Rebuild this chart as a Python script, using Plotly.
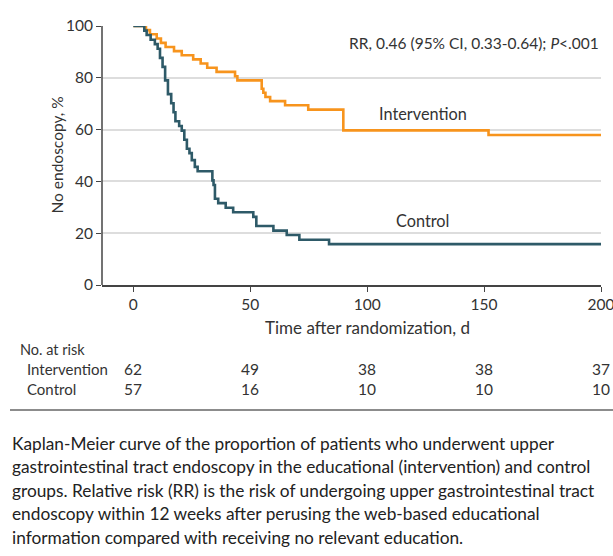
import plotly.graph_objects as go

# ---------------- data ----------------
int_time = [0, 5.4, 7.1, 10.0, 11.8, 13.8, 17.4, 20.7, 25.6, 28.8, 31.6, 35.6, 43.5, 44.5,
            54.9, 55.6, 56.5, 58.5, 64.9, 74.8, 89.8, 151.9, 200]
int_surv = [100, 98.4, 96.8, 95.2, 93.5, 91.9, 90.3, 88.7, 87.1, 85.5, 83.9, 82.3, 80.6, 79.0,
            75.8, 74.2, 72.6, 71.0, 69.4, 67.7, 59.7, 57.9, 57.9]

ctl_time = [0, 4.7, 5.7, 7.4, 9.2, 10.4, 11.4, 12.5, 13.6, 14.8, 16.2, 17.2, 18.0, 19.6, 20.7,
            21.8, 22.9, 24.0, 25.0, 26.3, 27.5, 33.8, 34.3, 34.9, 36.3, 39.5, 42.7, 51.3, 52.6,
            59.9, 65.6, 71.0, 83.7, 200]
ctl_surv = [100, 98.2, 96.5, 94.7, 93.0, 91.2, 87.7, 84.2, 79.0, 73.7, 70.2, 66.7, 63.2, 61.4, 59.6,
            56.1, 52.6, 50.9, 48.2, 45.6, 43.9, 40.4, 38.6, 33.3, 31.6, 29.8, 28.1, 26.3, 22.8,
            21.0, 19.3, 17.5, 15.8, 15.8]

risk_times = [0, 50, 100, 150, 200]
risk_int = [62, 49, 38, 38, 37]
risk_ctl = [57, 16, 10, 10, 10]

caption_lines = [
    "Kaplan-Meier curve of the proportion of patients who underwent upper",
    "gastrointestinal tract endoscopy in the educational (intervention) and control",
    "groups. Relative risk (RR) is the risk of undergoing upper gastrointestinal tract",
    "endoscopy within 12 weeks after perusing the web-based educational",
    "information compared with receiving no relevant education.",
]

# ---------------- layout helpers ----------------
W, H = 613, 556
L, R, T, B = 102, 12, 26, 271
PW, PH = W - L - R, H - T - B
FONT = "Lato, Noto Sans, sans-serif"
TXT = "#333333"
ORANGE = "#F7941D"
SLATE = "#2E5A68"


def px(xp):
    return (xp - L) / PW


def py(yp):
    return (H - B - yp) / PH


fig = go.Figure()
fig.add_trace(go.Scatter(x=int_time, y=int_surv, mode="lines", line=dict(color=ORANGE, width=2.6, shape="hv"),
                         name="Intervention", hoverinfo="skip"))
fig.add_trace(go.Scatter(x=ctl_time, y=ctl_surv, mode="lines", line=dict(color=SLATE, width=2.6, shape="hv"),
                         name="Control", hoverinfo="skip"))

anns = []


def txt(x, y, s, size, xanchor="center", xref="paper", color=TXT, angle=0):
    anns.append(dict(x=x, y=y, xref=xref, yref="paper", xanchor=xanchor, yanchor="middle",
                     text=s, showarrow=False, textangle=angle,
                     font=dict(size=size, color=color, family=FONT)))


txt(px(601), py(43), "RR, 0.46 (95% CI, 0.33-0.64); <i>P</i><.001", 15.5, xanchor="right")
txt(px(422.5), py(113), "Intervention", 16.3)
txt(px(422.5), py(220), "Control", 16.3)
txt(px(367), py(327), "Time after randomization, d", 17)
txt(px(56), py(155.5), "No endoscopy, %", 15.5, angle=-90)
txt(px(18), py(349), "No. at risk", 14.5, xanchor="left")
txt(px(25), py(369), "Intervention", 15, xanchor="left")
txt(px(25), py(389), "Control", 15, xanchor="left")
for t, a, c in zip(risk_times, risk_int, risk_ctl):
    txt(t, py(369), str(a), 15.5, xref="x")
    txt(t, py(389), str(c), 15.5, xref="x")
for i, line in enumerate(caption_lines):
    txt(px(10), py(443 + i * 23.5), line, 17.3, xanchor="left", color="#222222")

shapes = [
    dict(type="line", xref="paper", yref="y", x0=0, x1=0, y0=0, y1=100, line=dict(color="#444444", width=1.5)),
    dict(type="line", xref="paper", yref="paper", x0=px(10), x1=px(613), y0=py(410), y1=py(410),
         line=dict(color="#666666", width=1.5)),
]

fig.update_layout(
    width=W, height=H, margin=dict(l=L, r=R, t=T, b=B, autoexpand=False),
    paper_bgcolor="white", plot_bgcolor="white", showlegend=False,
    font=dict(family=FONT, color=TXT, size=15),
    annotations=anns, shapes=shapes,
    xaxis=dict(range=[-13.4, 200], tickvals=risk_times, showgrid=False, zeroline=False, automargin=False,
               showline=True, linecolor="#444444", linewidth=1.5, ticks="outside", ticklen=5,
               tickcolor="#444444", tickfont=dict(size=15.5, color=TXT), ticklabeloverflow="allow"),
    yaxis=dict(range=[0, 100], tickvals=[0, 20, 40, 60, 80, 100], showgrid=True, gridcolor="#dddddd",
               gridwidth=1.5, zeroline=False, showline=False, ticks="outside", ticklen=5, automargin=False,
               tickcolor="#444444", tickfont=dict(size=15.5, color=TXT)),
)

fig.write_html("out.html", config={"displayModeBar": False},
               post_script="document.body.style.margin='0';document.body.style.overflow='hidden';")
